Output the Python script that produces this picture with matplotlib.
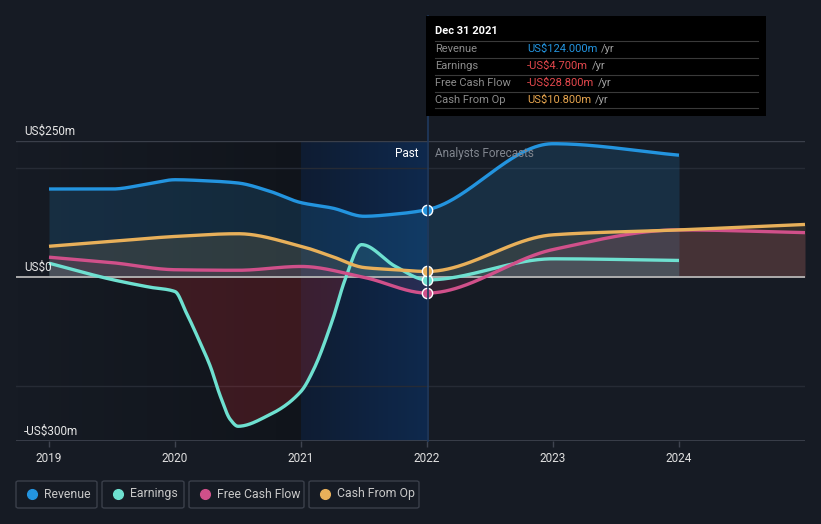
import numpy as np
import matplotlib
matplotlib.use("Agg")
import matplotlib.pyplot as plt
from matplotlib.patches import Rectangle, FancyBboxPatch
from matplotlib.lines import Line2D

plt.rcParams['font.family'] = ['Roboto', 'DejaVu Sans']

# ---------------- data (US$ m) ----------------
rev_x = [2019.0, 2019.5, 2019.8, 2020.0, 2020.25, 2020.5, 2020.75, 2021.0, 2021.25, 2021.5, 2021.75, 2022.0, 2023.0, 2024.0]
rev_y = [162, 162, 172, 179, 177, 173, 158, 137, 127, 112, 116, 124, 245, 224]

earn_x = [2019.0, 2019.5, 2019.8, 2020.0, 2020.09, 2020.2, 2020.28, 2020.36, 2020.44, 2020.5, 2020.75, 2021.0, 2021.1, 2021.25, 2021.35, 2021.48, 2021.75, 2022.0, 2023.0, 2024.0]
earn_y = [26, -4, -18, -26, -65, -120, -163, -218, -261, -273, -252, -209, -169, -78, -4, 60, 20, -4.7, 34, 31]

fcf_x = [2019.0, 2019.5, 2020.0, 2020.5, 2021.0, 2021.5, 2022.0, 2023.0, 2024.0, 2025.0]
fcf_y = [37, 27, 14, 13, 20, 0, -28.8, 51, 87, 82]

cfo_x = [2019.0, 2019.5, 2020.0, 2020.5, 2021.0, 2021.25, 2021.5, 2021.75, 2022.0, 2023.0, 2024.0, 2025.0]
cfo_y = [57, 66, 75, 80, 57, 38, 18, 14, 10.8, 78, 87, 97]

series_names = ["Revenue", "Earnings", "Free Cash Flow", "Cash From Op"]
series_colors = ["#2394df", "#6ee0d0", "#d0508a", "#e8b05a"]

y_ticks = [250, 0, -300]
y_tick_labels = ["US$250m", "US$0", "-US$300m"]
x_ticks = [2019, 2020, 2021, 2022, 2023, 2024]

tooltip_title = "Dec 31 2021"
tooltip_labels = ["Revenue", "Earnings", "Free Cash Flow", "Cash From Op"]
tooltip_values = ["US$124.000m", "-US$4.700m", "-US$28.800m", "US$10.800m"]
tooltip_colors = ["#2394df", "#e5484d", "#e5484d", "#e8a64f"]


def monotone(xs, ys, n=600):
    x = np.asarray(xs, float)
    y = np.asarray(ys, float)
    h = np.diff(x)
    d = np.diff(y) / h
    m = np.zeros_like(y)
    m[0] = d[0]
    m[-1] = d[-1]
    for i in range(1, len(y) - 1):
        if d[i - 1] * d[i] <= 0:
            m[i] = 0
        else:
            w1 = 2 * h[i] + h[i - 1]
            w2 = h[i] + 2 * h[i - 1]
            m[i] = (w1 + w2) / (w1 / d[i - 1] + w2 / d[i])
    xx = np.linspace(x[0], x[-1], n)
    idx = np.clip(np.searchsorted(x, xx) - 1, 0, len(x) - 2)
    t = (xx - x[idx]) / h[idx]
    h00 = 2 * t**3 - 3 * t**2 + 1
    h10 = t**3 - 2 * t**2 + t
    h01 = -2 * t**3 + 3 * t**2
    h11 = t**3 - t**2
    yy = h00 * y[idx] + h10 * h[idx] * m[idx] + h01 * y[idx + 1] + h11 * h[idx] * m[idx + 1]
    return xx, yy


W, H = 821, 524
fig = plt.figure(figsize=(W / 100, H / 100), dpi=100)
bg = "#161b24"
fig.patch.set_facecolor(bg)

L, R, T, B = 16, 805, 141, 441
ax = fig.add_axes([L / W, 1 - B / H, (R - L) / W, (B - T) / H])
ax.set_facecolor(bg)
ax.set_xlim(2018.738, 2025.0)
ax.set_ylim(-300, 250)
for s in ax.spines.values():
    s.set_visible(False)
ax.set_yticks([])

# darker gradient before 2021
grad = np.linspace(0, 1, 256).reshape(1, -1)
cmap_dark = matplotlib.colors.LinearSegmentedColormap.from_list("d", [(0.05, 0.06, 0.08, 0.0), (0.05, 0.06, 0.08, 0.55)])
ax.imshow(grad, extent=[2018.738, 2021.0, -300, 250], aspect="auto", cmap=cmap_dark, zorder=0.5)
# past region blue gradient
cmap_blue = matplotlib.colors.LinearSegmentedColormap.from_list("b", ["#0f1d33", "#0e2a50"])
ax.imshow(grad, extent=[2021.0, 2022.0, -300, 250], aspect="auto", cmap=cmap_blue, zorder=0.6, alpha=0.95)

# grid lines
ax.axhline(250, color="#3a3f4a", lw=1, zorder=1)
ax.axhline(200, color="#262b35", lw=1, zorder=1)
ax.axhline(-200, color="#262b35", lw=1, zorder=1)
ax.axhline(-300, color="#3f4450", lw=1.2, zorder=1)

# fills
xs, ys = monotone(rev_x, rev_y)
ax.fill_between(xs, ys, 0, color="#2394df", alpha=0.17, lw=0, zorder=2)
xc, yc = monotone(cfo_x, cfo_y)
ax.fill_between(xc, yc, 0, color="#e8b05a", alpha=0.13, lw=0, zorder=2)
xf, yf = monotone(fcf_x, fcf_y)
ax.fill_between(xf, yf, 0, color="#d0508a", alpha=0.13, lw=0, zorder=2)
xe, ye = monotone(earn_x, earn_y)
ax.fill_between(xe, ye, 0, where=ye < 0, color="#c0282e", alpha=0.25, lw=0, zorder=2, interpolate=True)
ax.fill_between(xe, ye, 0, where=ye >= 0, color="#6ee0d0", alpha=0.10, lw=0, zorder=2, interpolate=True)

ax.axhline(0, color="#b5b5b5", lw=1.3, zorder=3)

# lines
for (sx, sy), c in zip([(rev_x, rev_y), (earn_x, earn_y), (fcf_x, fcf_y), (cfo_x, cfo_y)], series_colors):
    px, py = monotone(sx, sy)
    ax.plot(px, py, color=c, lw=2.4, zorder=4, solid_capstyle="butt")
    i = list(sx).index(2022.0)
    ax.scatter([sx[i]], [sy[i]], s=55, color=c, edgecolor="white", linewidth=1.0, zorder=6)

# vertical line at 2022
fig.add_artist(Line2D([427.5 / W, 427.5 / W], [1 - B / H, 1 - 16 / H], color="#1f3a60", lw=1.2, zorder=1))

# x ticks
ax.set_xticks(x_ticks)
ax.set_xticklabels([str(t) for t in x_ticks])
ax.tick_params(axis="x", colors="#3f4450", length=4, width=1, labelcolor="#e0e0e0", labelsize=8.5, pad=4)

# y labels
for v, lab in zip(y_ticks, y_tick_labels):
    ax.text(2018.8, v + 6, lab, color="#e6e6e6", fontsize=8.5, va="bottom", ha="left", zorder=7)

ax.text(2021.93, 228, "Past", color="#ffffff", fontsize=8.5, ha="right", va="center", zorder=7)
ax.text(2022.06, 228, "Analysts Forecasts", color="#80858e", fontsize=8.5, ha="left", va="center", zorder=7)

# tooltip
tx0, ty0, tx1, ty1 = 426, 16, 766, 116
fig.add_artist(Rectangle((tx0 / W, 1 - ty1 / H), (tx1 - tx0) / W, (ty1 - ty0) / H, facecolor="#000000", edgecolor="none", zorder=10))
fig.text(435 / W, 1 - 31 / H, tooltip_title, color="#ffffff", fontsize=8, fontweight="bold", va="center", ha="left", zorder=11)
for yy in [40.5, 57.5, 74.5, 91.5, 108.5]:
    fig.add_artist(Line2D([435 / W, 758 / W], [1 - yy / H, 1 - yy / H], color="#3a3a3a", lw=0.8, zorder=11))
value_texts = []
for k, (lab, val, col) in enumerate(zip(tooltip_labels, tooltip_values, tooltip_colors)):
    yc_ = 49 + 17 * k
    fig.text(435 / W, 1 - yc_ / H, lab, color="#8c8c8c", fontsize=8, va="center", ha="left", zorder=11)
    t = fig.text(527 / W, 1 - yc_ / H, val, color=col, fontsize=8, va="center", ha="left", zorder=11)
    value_texts.append((t, yc_))

fig.canvas.draw()
renderer = fig.canvas.get_renderer()
for t, yc_ in value_texts:
    bb = t.get_window_extent(renderer)
    fig.text((bb.x1 + 4) / W, 1 - yc_ / H, "/yr", color="#a0a0a0", fontsize=8, va="center", ha="left", zorder=11)

# legend
boxes = [(16, 97), (102, 184), (189, 304), (309, 419)]
for (x0, x1), name, c in zip(boxes, series_names, series_colors):
    fig.add_artist(FancyBboxPatch((x0 / W, 1 - 508 / H), (x1 - x0) / W, 27 / H,
                                  boxstyle="round,pad=0,rounding_size=0.003", facecolor="none",
                                  edgecolor="#3a3f4a", lw=1, zorder=5))
    fig.add_artist(Line2D([(x0 + 16) / W], [1 - 494 / H], marker="o", markersize=7, color=c, lw=0, zorder=6))
    fig.text((x0 + 28) / W, 1 - 494 / H, name, color="#c8c8c8", fontsize=8.8, va="center", ha="left", zorder=6)

fig.savefig("out.png", dpi=100, facecolor=bg)
